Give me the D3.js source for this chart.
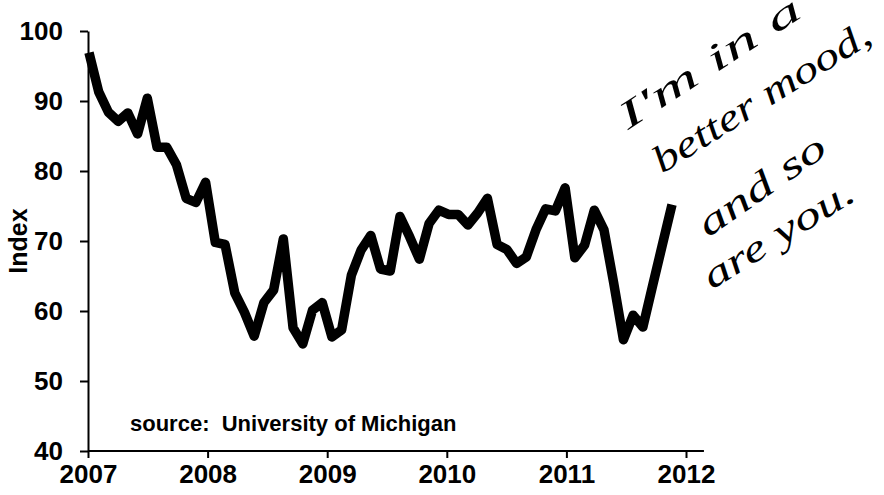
<!DOCTYPE html>
<html>
<head>
<meta charset="utf-8">
<script src="https://cdn.jsdelivr.net/npm/d3@7"></script>
<style>
  body { margin: 0; background: #fff; }
  svg { display: block; }
  .axis text { font-family: "Liberation Sans", Arial, sans-serif; font-weight: bold; font-size: 26px; fill: #000; }
  .axis path, .axis line { stroke: #000; stroke-width: 2; }
  .note { font-family: "Liberation Serif", serif; font-style: italic; font-size: 38px; fill: #000; }
</style>
</head>
<body>
<svg width="884" height="495"></svg>
<script>
// monthly sentiment index, Jan 2007 .. Jan 2012
const v2007 = [96.9, 91.3, 88.4, 87.1, 88.3, 85.3, 90.4, 83.4, 83.4, 80.9, 76.1, 75.5];
const v2008 = [78.4, 69.8, 69.5, 62.6, 59.8, 56.4, 61.2, 63.0, 70.3, 57.6, 55.3, 60.1];
const v2009 = [61.2, 56.3, 57.3, 65.1, 68.7, 70.8, 66.0, 65.7, 73.5, 70.6, 67.4, 72.5];
const v2010 = [74.4, 73.8, 73.8, 72.3, 74.0, 76.1, 69.5, 68.8, 66.8, 67.7, 71.6, 74.6];
const v2011 = [74.3, 77.6, 67.6, 69.4, 74.4, 71.6, 64.0, 55.9, 59.4, 57.7, 63.6, 69.4];
const v2012 = [75.2];
const values = [].concat(v2007, v2008, v2009, v2010, v2011, v2012);

const years = [2007, 2008, 2009, 2010, 2011, 2012];
const yTicks = [40, 50, 60, 70, 80, 90, 100];
const noteLines = ["I'm in a", "better mood,", "and so", "are you."];

const svg = d3.select('svg');

const y = d3.scaleLinear().domain([40, 100]).range([451, 31]);
const xYear = d3.scaleLinear().domain([2007, 2012]).range([88, 686]);
const xMonth = d3.scaleLinear().domain([0, values.length - 1]).range([89, 672]);

// y axis
svg.append('g')
    .attr('class', 'axis')
    .attr('transform', 'translate(88,0)')
  .call(d3.axisLeft(y).tickValues(yTicks).tickSize(8).tickSizeOuter(0).tickPadding(17))
  .append('text')
    .text('Index')
    .attr('transform', 'rotate(-90)')
    .attr('x', -y(70))
    .attr('y', -61)
    .attr('text-anchor', 'middle')
    .style('font-size', '25px')
;

// x axis
const gx = svg.append('g')
    .attr('class', 'axis')
    .attr('transform', 'translate(0,451)')
  .call(d3.axisBottom(xYear).tickValues(years).tickFormat(d3.format('d')).tickSize(7).tickSizeOuter(0).tickPadding(7))
;
gx.select('.domain').remove();
gx.append('line')
    .attr('x1', xYear(2007))
    .attr('x2', xYear(2012.15))
    .attr('stroke', '#000')
    .attr('stroke-width', 2)
;

svg.append('text')
    .text('source:  University of Michigan')
    .attr('x', 130)
    .attr('y', 431)
    .style('white-space', 'pre')
    .style('font-family', '"Liberation Sans", Arial, sans-serif')
    .style('font-weight', 'bold')
    .style('font-size', '22px')
;

const line = d3.line()
  .x((d, i) => xMonth(i))
  .y(d => y(d));

svg.append('path')
    .datum(values)
    .attr('d', line)
    .attr('fill', 'none')
    .attr('stroke', '#000')
    .attr('stroke-width', 9.5)
    .attr('stroke-linejoin', 'round')
;

// the scribbled note
const notePos = [
  { x: 628, y: 130, a: -33, len: 210 },
  { x: 662, y: 174, a: -32, len: 250 },
  { x: 708, y: 238, a: -35, len: 148 },
  { x: 712, y: 290, a: -32, len: 172 }
];
svg.selectAll('text.note')
  .data(noteLines)
  .enter()
  .append('text')
    .attr('class', 'note')
    .attr('transform', (d, i) => `translate(${notePos[i].x},${notePos[i].y}) rotate(${notePos[i].a})`)
    .attr('textLength', (d, i) => notePos[i].len)
    .attr('lengthAdjust', 'spacingAndGlyphs')
    .text(d => d)
;
</script>
</body>
</html>
